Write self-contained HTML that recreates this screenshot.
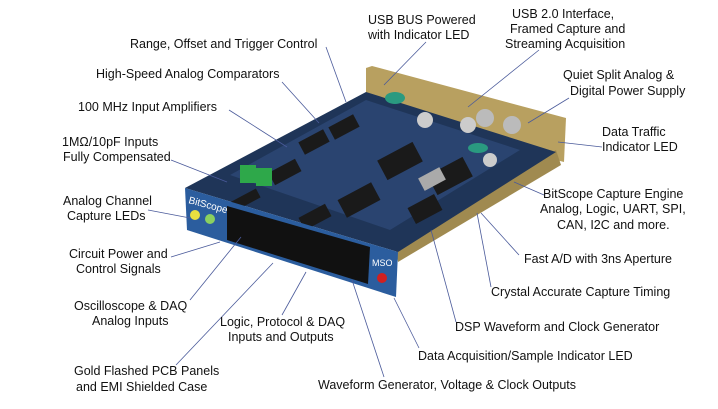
<!DOCTYPE html>
<html><head><meta charset="utf-8"><style>
html,body{margin:0;padding:0;background:#fff;}
svg text{font-family:"Liberation Sans",sans-serif;font-size:12.5px;fill:#111;}
</style></head><body>
<svg width="718" height="404" viewBox="0 0 718 404" xmlns="http://www.w3.org/2000/svg">
<rect width="718" height="404" fill="#fff"/>
<!-- gold back panel -->
<polygon points="366,68 372,66 566,118 564,162 556,160 366,100" fill="#b8a060"/>
<!-- gold right side -->
<polygon points="396,250 556,150 561,165 398,262" fill="#a08a50"/>
<!-- board surface -->
<polygon points="185,188 366,92 556,152 398,252" fill="#1f3558"/>
<polygon points="230,175 366,100 520,150 390,230" fill="#2a4470"/>
<!-- chips -->
<g fill="#1a1a1a">
<rect x="300" y="135" width="28" height="14" transform="rotate(-28 314 142)"/>
<rect x="330" y="120" width="28" height="14" transform="rotate(-28 344 127)"/>
<rect x="380" y="150" width="40" height="22" transform="rotate(-28 400 161)"/>
<rect x="430" y="165" width="40" height="22" transform="rotate(-28 450 176)"/>
<rect x="340" y="190" width="38" height="20" transform="rotate(-28 359 200)"/>
<rect x="410" y="200" width="30" height="18" transform="rotate(-28 425 209)"/>
<rect x="270" y="165" width="30" height="14" transform="rotate(-28 285 172)"/>
<rect x="300" y="210" width="30" height="14" transform="rotate(-28 315 217)"/>
<rect x="230" y="195" width="30" height="10" transform="rotate(-28 245 200)"/>
</g>
<rect x="420" y="172" width="24" height="14" fill="#aaa" transform="rotate(-28 432 179)"/>
<circle cx="425" cy="120" r="8" fill="#ccc"/><circle cx="468" cy="125" r="8" fill="#ccc"/>
<circle cx="485" cy="118" r="9" fill="#bbb"/><circle cx="512" cy="125" r="9" fill="#bbb"/>
<circle cx="490" cy="160" r="7" fill="#ccc"/>
<ellipse cx="395" cy="98" rx="10" ry="6" fill="#2a9a80"/>
<ellipse cx="478" cy="148" rx="10" ry="5" fill="#2a9a80"/>
<rect x="240" y="165" width="16" height="18" fill="#2ea84a"/>
<rect x="256" y="168" width="16" height="18" fill="#2ea84a"/>
<!-- front panel -->
<polygon points="185,188 398,252 396,297 187,230" fill="#2b5d9e"/>
<polygon points="227,206 370,247 368,284 227,240" fill="#111"/>
<text x="188" y="203" style="font-size:10px;fill:#fff" transform="rotate(15 188 203)">BitScope</text>
<circle cx="195" cy="215" r="5" fill="#e8e040"/>
<circle cx="210" cy="219" r="5" fill="#8ad060"/>
<circle cx="382" cy="278" r="5" fill="#d02020"/>
<text x="372" y="266" style="font-size:9px;fill:#fff">MSO</text>
<!-- leader lines -->
<g stroke="#4a5a9a" stroke-width="0.8" fill="none">
<line x1="326" y1="47" x2="346" y2="102"/>
<line x1="426" y1="42" x2="384" y2="85"/>
<line x1="539" y1="50" x2="468" y2="107"/>
<line x1="282" y1="82" x2="319" y2="123"/>
<line x1="229" y1="110" x2="287" y2="147"/>
<line x1="171" y1="160" x2="227" y2="182"/>
<line x1="148" y1="210" x2="190" y2="218"/>
<line x1="171" y1="257" x2="220" y2="242"/>
<line x1="190" y1="300" x2="241" y2="237"/>
<line x1="176" y1="365" x2="273" y2="263"/>
<line x1="282" y1="315" x2="306" y2="272"/>
<line x1="384" y1="377" x2="352" y2="280"/>
<line x1="419" y1="348" x2="394" y2="298"/>
<line x1="456" y1="322" x2="431" y2="230"/>
<line x1="491" y1="287" x2="477" y2="213"/>
<line x1="519" y1="255" x2="481" y2="213"/>
<line x1="544" y1="195" x2="514" y2="182"/>
<line x1="602" y1="147" x2="558" y2="142"/>
<line x1="569" y1="98" x2="528" y2="123"/>
</g>
<!-- labels -->
<text x="130" y="48">Range, Offset and Trigger Control</text>
<text x="368" y="24">USB BUS Powered</text>
<text x="368" y="39">with Indicator LED</text>
<text x="512" y="18">USB 2.0 Interface,</text>
<text x="510" y="33">Framed Capture and</text>
<text x="505" y="48">Streaming Acquisition</text>
<text x="96" y="78">High-Speed Analog Comparators</text>
<text x="78" y="111">100 MHz Input Amplifiers</text>
<text x="563" y="79">Quiet Split Analog &amp;</text>
<text x="570" y="95">Digital Power Supply</text>
<text x="62" y="146">1MΩ/10pF Inputs</text>
<text x="63" y="161">Fully Compensated</text>
<text x="602" y="136">Data Traffic</text>
<text x="602" y="151">Indicator LED</text>
<text x="63" y="205">Analog Channel</text>
<text x="67" y="220">Capture LEDs</text>
<text x="543" y="198">BitScope Capture Engine</text>
<text x="540" y="213">Analog, Logic, UART, SPI,</text>
<text x="557" y="229">CAN, I2C and more.</text>
<text x="69" y="258">Circuit Power and</text>
<text x="76" y="273">Control Signals</text>
<text x="524" y="263">Fast A/D with 3ns Aperture</text>
<text x="491" y="296">Crystal Accurate Capture Timing</text>
<text x="74" y="310">Oscilloscope &amp; DAQ</text>
<text x="92" y="325">Analog Inputs</text>
<text x="220" y="326">Logic, Protocol &amp; DAQ</text>
<text x="228" y="341">Inputs and Outputs</text>
<text x="455" y="331">DSP Waveform and Clock Generator</text>
<text x="418" y="360">Data Acquisition/Sample Indicator LED</text>
<text x="74" y="375">Gold Flashed PCB Panels</text>
<text x="76" y="391">and EMI Shielded Case</text>
<text x="318" y="389">Waveform Generator, Voltage &amp; Clock Outputs</text>
</svg>
</body></html>
